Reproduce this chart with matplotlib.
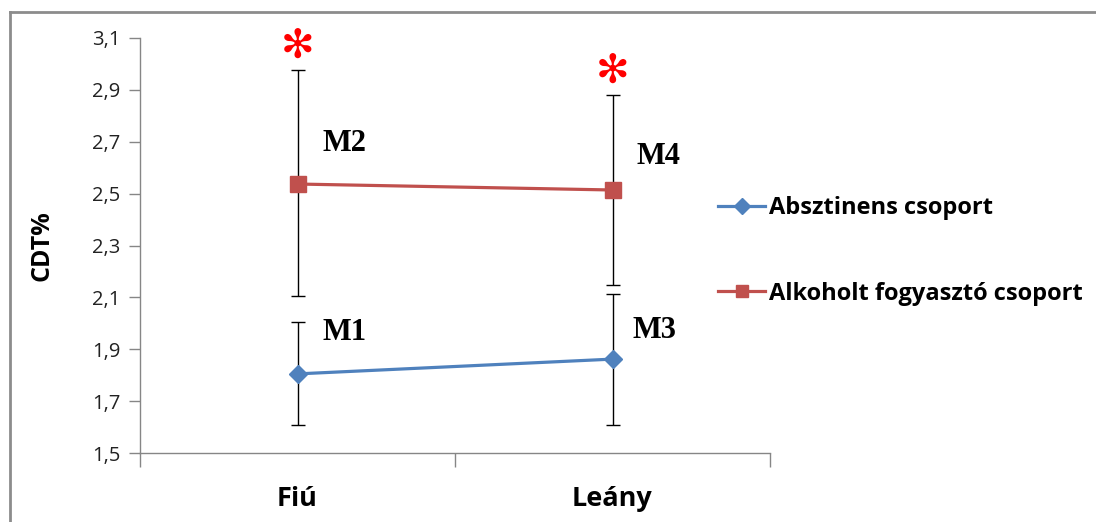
import matplotlib
matplotlib.use("Agg")
import matplotlib.pyplot as plt
from matplotlib.lines import Line2D

categories = ["Fiú", "Leány"]
series_names = ["Absztinens csoport", "Alkoholt fogyasztó csoport"]
absz_mean = [1.805, 1.862]
absz_low = [1.608, 1.608]
absz_high = [2.005, 2.113]
alk_mean = [2.537, 2.514]
alk_low = [2.105, 2.148]
alk_high = [2.976, 2.880]
yticks = [1.5, 1.7, 1.9, 2.1, 2.3, 2.5, 2.7, 2.9, 3.1]
point_labels_absz = ["M1", "M3"]
point_labels_alk = ["M2", "M4"]

blue = "#4F81BD"
red = "#C0504D"
gray = "#868686"
font = "Open Sans"

fig = plt.figure(figsize=(10.96, 5.22), dpi=100)
fig.patch.set_facecolor("white")
ax = fig.add_axes([140/1096, 69/522, 630/1096, 415/522])

x = list(range(len(categories)))

for mean, lo, hi in [(absz_mean, absz_low, absz_high), (alk_mean, alk_low, alk_high)]:
    yerr = [[m - l for m, l in zip(mean, lo)], [h - m for m, h in zip(mean, hi)]]
    ax.errorbar(x, mean, yerr=yerr, fmt="none", ecolor="black", elinewidth=1.0,
                capsize=5, capthick=1.0, zorder=2)

ax.plot(x, absz_mean, color=blue, lw=2.3, marker="D", ms=9, mec=blue, mfc=blue,
        label=series_names[0], zorder=3)
ax.plot(x, alk_mean, color=red, lw=2.3, marker="s", ms=11, mec=red, mfc=red,
        label=series_names[1], zorder=3)

ax.set_xlim(-0.5, 1.5)
ax.set_ylim(1.5, 3.1)
ax.set_yticks(yticks)
ax.set_yticklabels([f"{v:.1f}".replace(".", ",") for v in yticks], fontsize=14.5,
                   family=font, color="#222222")
ax.set_xticks([-0.5, 0.5, 1.5])
ax.set_xticklabels([])
ax.set_xticks(x, minor=True)
ax.set_xticklabels(categories, minor=True, fontsize=19.5, fontweight="bold", family=font)
ax.tick_params(axis="x", which="major", direction="out", length=10, color=gray, width=1)
ax.tick_params(axis="x", which="minor", length=0, pad=24)
ax.tick_params(axis="y", direction="out", length=8, color=gray, width=1, pad=6)
for s in ["top", "right"]:
    ax.spines[s].set_visible(False)
for s in ["left", "bottom"]:
    ax.spines[s].set_color(gray)
    ax.spines[s].set_linewidth(1)

fig.text(42/1096, 1 - 246/522, "CDT%", rotation=90, ha="center", va="center",
         fontsize=18, fontweight="bold", family=font)

# point labels
offs_alk = [(0.08, 0.158), (0.075, 0.13)]
offs_absz = [(0.08, 0.158), (0.065, 0.112)]
for i in x:
    ax.text(i + offs_alk[i][0], alk_mean[i] + offs_alk[i][1], point_labels_alk[i],
            fontsize=22, fontweight="bold", family="Liberation Serif", va="center", ha="left")
    ax.text(i + offs_absz[i][0], absz_mean[i] + offs_absz[i][1], point_labels_absz[i],
            fontsize=22, fontweight="bold", family="Liberation Serif", va="center", ha="left")
    ax.text(i, alk_high[i] + 0.09, "✻", color="#FF0000", fontsize=29, ha="center",
            va="center", family="DejaVu Sans")

leg = fig.legend(loc="center left", bbox_to_anchor=(718/1096, 1 - 251/522),
                 frameon=False, prop={"family": font, "weight": "bold", "size": 17},
                 labelspacing=2.6, handlelength=2.0, handletextpad=0.15,
                 borderpad=0, borderaxespad=0, markerscale=0.85)

# figure border
fig.add_artist(Line2D([10/1096, 10/1096], [0, 1 - 12/522], color="#8c8c8c", lw=2,
                      transform=fig.transFigure))
fig.add_artist(Line2D([10/1096, 1], [1 - 12/522, 1 - 12/522], color="#8c8c8c", lw=2,
                      transform=fig.transFigure))

fig.savefig("out.png", dpi=100)
